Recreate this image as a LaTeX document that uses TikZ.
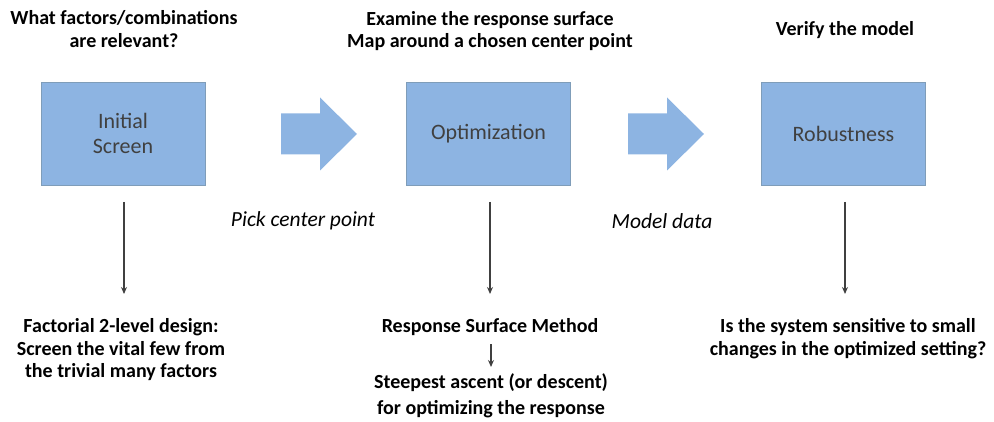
\documentclass[tikz,border=0pt]{standalone}
\usepackage{fontspec}
\setmainfont{Carlito}
\usetikzlibrary{arrows.meta}
\definecolor{boxblue}{HTML}{8DB4E2}
\definecolor{boxline}{HTML}{7F9DB9}
\definecolor{boxtext}{HTML}{404040}

\tikzstyle{stage} = [draw=boxline,fill=boxblue,minimum width=164pt,minimum height=103pt,inner sep=0pt,align=center,text=boxtext,font=\fontsize{22}{25}\selectfont]
\tikzstyle{bigarrow} = [fill=boxblue,draw=none]
\tikzstyle{question} = [align=center,font=\bfseries\fontsize{20}{22.5}\selectfont]
\tikzstyle{method} = [align=center,font=\bfseries\fontsize{20}{22.5}\selectfont]
\tikzstyle{transfer} = [font=\itshape\fontsize{21.5}{24}\selectfont]
\tikzstyle{arrowdecorate} = [-{Stealth[length=7pt,width=6pt]},line width=1.2pt,draw=black!75]

\begin{document}
\begin{tikzpicture}[x=1pt,y=-1pt]
      \useasboundingbox (0,0) rectangle (994,422);
      %boxes
      \foreach \nodename/\x/\txt in {
        screen/123/Initial\\Screen,
        optim/488.5/Optimization,
        robust/843.5/Robustness}
      {
        \node[stage] (\nodename) at (\x,133.5) {\txt};
      };
      %block arrows
      \foreach \x in {281,628}
      {
        \path[bigarrow] (\x,113.5) -- ++(39,0) -- ++(0,-16) -- ++(37,36.5)
          -- ++(-37,36.5) -- ++(0,-16) -- ++(-39,0) -- cycle;
      };
      %questions above
      \node[question] (qscreen) at (124,29) {What factors/combinations\\are relevant?};
      \node[question] (qoptim) at (490,31) {Examine the response surface\\Map around a chosen center point};
      \node[question] (qrobust) at (845,30) {Verify the model};
      %labels between
      \node[transfer] (pick) at (303,221) {Pick center point};
      \node[transfer] (model) at (662,221) {Model data};
      %methods below
      \node[method] (mscreen) at (121,350) {Factorial 2-level design:\\Screen the vital few from\\the trivial many factors};
      \node[method] (moptim) at (490,327) {Response Surface Method};
      \node[method,font=\bfseries\fontsize{20}{26}\selectfont] (msteep) at (491,396) {Steepest ascent (or descent)\\for optimizing the response};
      \node[method] (mrobust) at (848,338.5) {Is the system sensitive to small\\changes in the optimized setting?};
      %edges
      \coordinate (sa) at (124,202);
      \coordinate (sb) at (124,294);
      \coordinate (oa) at (490,202);
      \coordinate (ob) at (490,294);
      \coordinate (ra) at (845,202);
      \coordinate (rb) at (845,294);
      \coordinate (ma) at (491,344);
      \coordinate (mb) at (491,367);
      \path
      \foreach \startnode/\endnode in {sa/sb, oa/ob, ra/rb, ma/mb}
      {
        (\startnode) edge[arrowdecorate] (\endnode)
      };
\end{tikzpicture}
\end{document}
